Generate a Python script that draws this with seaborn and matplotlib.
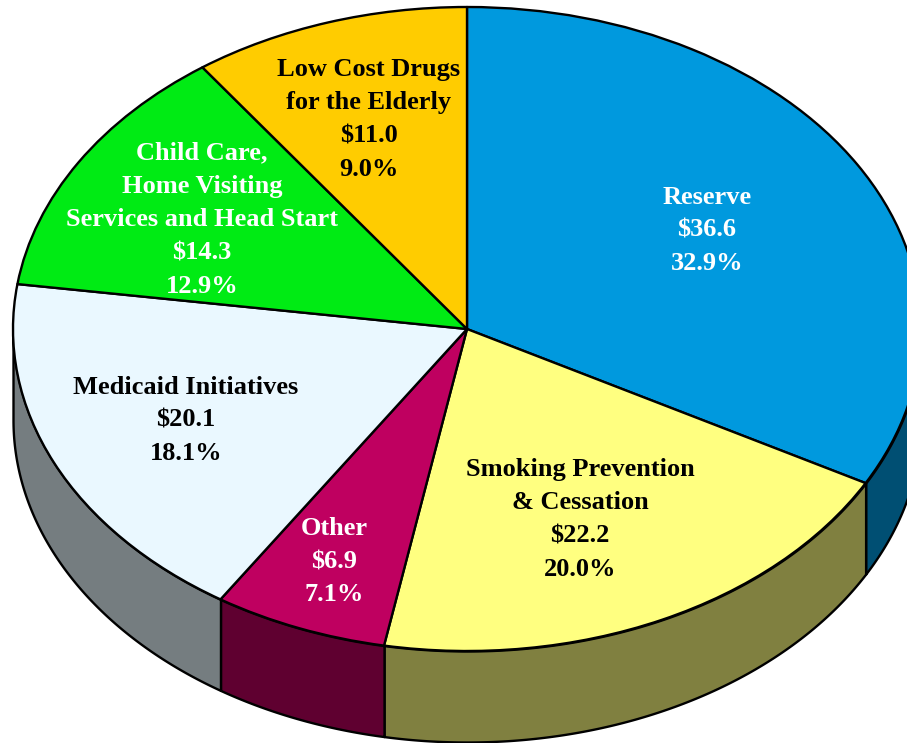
import numpy as np
import matplotlib
matplotlib.use("Agg")
import matplotlib.pyplot as plt
import seaborn as sns

names = ["Reserve", "Smoking Prevention\n& Cessation", "Other", "Medicaid Initiatives",
         "Child Care,\nHome Visiting\nServices and Head Start", "Low Cost Drugs\nfor the Elderly"]
dollars = [36.6, 22.2, 6.9, 20.1, 14.3, 11.0]
percents = ["32.9%", "20.0%", "7.1%", "18.1%", "12.9%", "9.0%"]
top_colors = ["#0099DE", "#FFFF80", "#BF0060", "#EAF8FF", "#00EB14", "#FFCC00"]
side_colors = ["#004F73", "#808040", "#5F0030", "#757D80", "#007A0A", "#806600"]
text_colors = ["white", "black", "white", "black", "white", "black"]

# label anchors, in pixels of the output image
label_x = [707, 580, 334, 186, 202, 369]
label_y = [228, 517, 559, 418, 217, 117]
LINE_STEP = 33.4
BASELINE_SHIFT = 9

W, H = 907, 743
CX, CY, RX, RY = 467, 329, 454, 322
DEPTH = 91 / RY

sns.set_theme(style="white")
plt.rcParams["font.family"] = ["Liberation Serif", "DejaVu Serif"]

fig = plt.figure(figsize=(W / 100, H / 100), dpi=100, facecolor="white")
ax = fig.add_axes([0, 0, 1, 1])

wedges, _ = ax.pie(dollars, colors=sns.color_palette(top_colors), startangle=90, counterclock=False,
                   wedgeprops=dict(edgecolor="black", linewidth=1.7, joinstyle="round"))
for w in wedges:
    w.set_zorder(3)

# side wall of each slice that shows along the front edge
for w, side in zip(wedges, side_colors):
    lo, hi = min(w.theta1, w.theta2), max(w.theta1, w.theta2)
    lo, hi = np.array([lo, hi]) % 360
    if hi <= lo:
        hi += 360
    a, b = max(lo, 180), min(hi, 360)
    if a >= b:
        continue
    t = np.radians(np.linspace(a, b, 200))
    x, y = np.cos(t), np.sin(t)
    ax.fill_between(x, y, y - DEPTH, facecolor=side, edgecolor="black", linewidth=1.7, zorder=2)

ax.set_aspect("auto")
ax.set_xlim(-CX / RX, (W - CX) / RX)
ax.set_ylim(-(H - CY) / RY, CY / RY)
ax.axis("off")

# each label line is its own text, stepped down from the anchor
for name, val, pct, col, lx, ly in zip(names, dollars, percents, text_colors, label_x, label_y):
    lines = name.split("\n") + [f"${val:.1f}", pct]
    mid = (len(lines) - 1) / 2
    for i, line in enumerate(lines):
        py = ly + BASELINE_SHIFT + (i - mid) * LINE_STEP
        fig.text(lx / W, 1 - py / H, line, color=col, fontsize=19, fontweight="bold",
                 ha="center", va="baseline", zorder=5)

fig.savefig("out.png", dpi=100, facecolor="white")
